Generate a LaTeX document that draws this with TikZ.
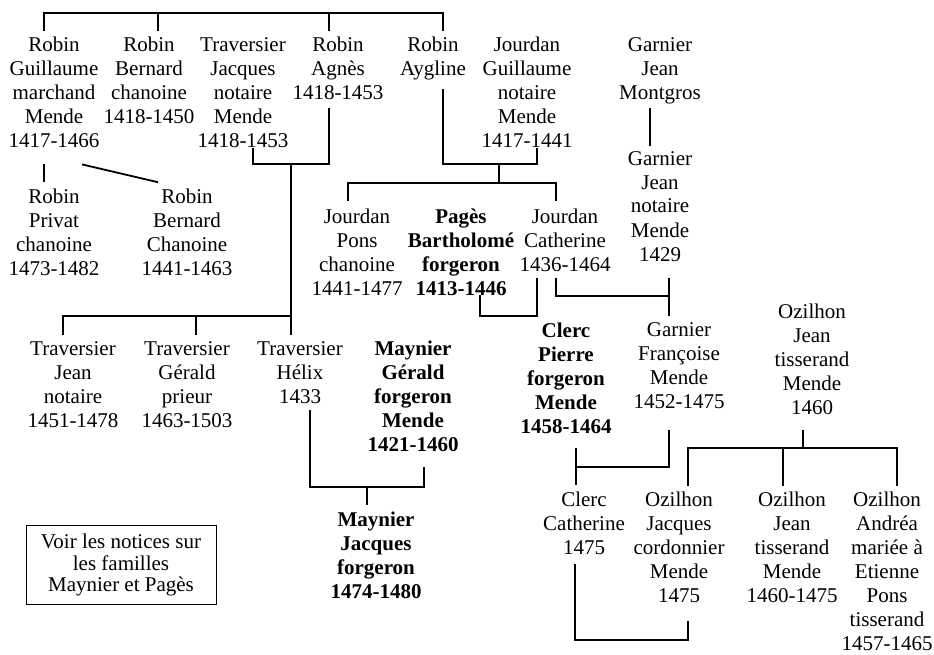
\documentclass[tikz,border=0pt]{standalone}
\usepackage{fontspec}
\setmainfont{Liberation Serif}

\begin{document}
\begin{tikzpicture}[x=1pt,y=-1pt]
	% Define styles for the persons and the family lines
	\tikzset{person/.style={align=center, inner sep=0pt, anchor=base, font=\fontsize{21}{24}\selectfont},
		forge/.style={person, font=\fontsize{21}{24}\selectfont\bfseries},
		link/.style={line width=1.8pt}}
	\useasboundingbox (0,0) rectangle (934,655);
	
	% First generation (placed at the baseline of the last line)
	\node[person] (guillaume) at (54,148) {Robin\\Guillaume\\marchand\\Mende\\1417-1466};
	\node[person] (bernard) at (149,124) {Robin\\Bernard\\chanoine\\1418-1450};
	\node[person] (jacques) at (243,148) {Traversier\\Jacques\\notaire\\Mende\\1418-1453};
	\node[person] (agnes) at (338,100) {Robin\\Agnès\\1418-1453};
	\node[person] (aygline) at (433,76) {Robin\\Aygline};
	\node[person] (jguillaume) at (527,148) {Jourdan\\Guillaume\\notaire\\Mende\\1417-1441};
	\node[person] (montgros) at (660,100) {Garnier\\Jean\\Montgros};
	\node[person] (garnierjean) at (660,261) {Garnier\\Jean\\notaire\\Mende\\1429};
	
	% Second generation
	\node[person] (privat) at (54,275) {Robin\\Privat\\chanoine\\1473-1482};
	\node[person] (bernardb) at (187,275) {Robin\\Bernard\\Chanoine\\1441-1463};
	\node[person] (pons) at (357,295) {Jourdan\\Pons\\chanoine\\1441-1477};
	\node[forge] (pages) at (461,295) {Pagès\\Bartholomé\\forgeron\\1413-1446};
	\node[person] (catherine) at (565,271) {Jourdan\\Catherine\\1436-1464};
	\node[person] (tjean) at (73,427) {Traversier\\Jean\\notaire\\1451-1478};
	\node[person] (tgerald) at (187,427) {Traversier\\Gérald\\prieur\\1463-1503};
	\node[person] (helix) at (300,403) {Traversier\\Hélix\\1433};
	\node[forge] (maynierg) at (413,451) {Maynier\\Gérald\\forgeron\\Mende\\1421-1460};
	\node[forge] (clercp) at (566,433) {Clerc\\Pierre\\forgeron\\Mende\\1458-1464};
	\node[person] (francoise) at (679,408) {Garnier\\Françoise\\Mende\\1452-1475};
	\node[person] (ozjean) at (812,414) {Ozilhon\\Jean\\tisserand\\Mende\\1460};
	
	% Third generation
	\node[forge] (maynierj) at (376,598) {Maynier\\Jacques\\forgeron\\1474-1480};
	\node[person] (clercc) at (584,554) {Clerc\\Catherine\\1475};
	\node[person] (ojacques) at (679,602) {Ozilhon\\Jacques\\cordonnier\\Mende\\1475};
	\node[person] (ojean) at (792,602) {Ozilhon\\Jean\\tisserand\\Mende\\1460-1475};
	\node[person] (andrea) at (887,650) {Ozilhon\\Andréa\\mariée à\\Etienne\\Pons\\tisserand\\1457-1465};
	
	% Note box
	\node[draw, line width=1pt, minimum width=190pt, minimum height=79pt, align=center, inner sep=0pt,
		font=\fontsize{21}{21.5}\selectfont] (notice) at (121,565) {Voir les notices sur\\les familles\\Maynier et Pagès};
	
	% Junctions of the lines
	\coordinate (top) at (300,13);
	\coordinate (tj) at (291,164);
	\coordinate (tb) at (291,316);
	\coordinate (jj) at (499,164);
	\coordinate (jb) at (499,183);
	\coordinate (pc) at (500,316);
	\coordinate (cg) at (669,296);
	\coordinate (hm) at (367,487);
	\coordinate (cf) at (576,467);
	\coordinate (oz) at (803,448);
	\coordinate (co) at (575,640);
	
	% Robin siblings
	\draw[link] ([xshift=-10pt,yshift=6pt]guillaume.north) |- (top) -| ([xshift=10pt,yshift=6pt]aygline.north);
	\draw[link] ([xshift=9pt,yshift=6pt]bernard.north) |- (top);
	\draw[link] ([xshift=-9pt,yshift=6pt]agnes.north) |- (top);
	
	% Children of Robin Guillaume
	\draw[link] ([xshift=-10pt,yshift=-16pt]guillaume.south) -- ([xshift=-10pt,yshift=6pt]privat.north);
	\draw[link] ([xshift=28pt,yshift=-16pt]guillaume.south) -- ([xshift=-29pt,yshift=6pt]bernardb.north);
	
	% Agnes and Jacques with the Traversier children
	\draw[link] ([xshift=-9pt,yshift=-8pt]agnes.south) |- (tj) -| ([xshift=10pt]jacques.south);
	\draw[link] (tj) -- ([xshift=-9pt,yshift=6pt]helix.north);
	\draw[link] ([xshift=-10pt,yshift=6pt]tjean.north) |- (tb);
	\draw[link] ([xshift=9pt,yshift=6pt]tgerald.north) |- (tb);
	
	% Aygline and Guillaume with the Jourdan children
	\draw[link] ([xshift=10pt,yshift=-8pt]aygline.south) |- (jj) -| ([xshift=10pt]jguillaume.south);
	\draw[link] (jj) -- (jb);
	\draw[link] ([xshift=-9pt,yshift=7pt]pons.north) |- (jb) -| ([xshift=-9pt,yshift=7pt]catherine.north);
	
	% Garnier line
	\draw[link] ([xshift=-10pt,yshift=-3pt]montgros.south) -- ([xshift=-10pt,yshift=5pt]garnierjean.north);
	\draw[link] ([xshift=9pt,yshift=-17pt]garnierjean.south) -- ([xshift=-10pt,yshift=6pt]francoise.north);
	\draw[link] ([xshift=-9pt,yshift=-7pt]catherine.south) |- (cg);
	
	% Catherine and Bartholome
	\draw[link] ([xshift=19pt]pages.south) |- (pc) -| ([xshift=-28pt,yshift=-7pt]catherine.south);
	
	% Helix and Gerald Maynier
	\draw[link] ([xshift=10pt,yshift=-7pt]helix.south) |- (hm) -| ([xshift=11pt,yshift=-16pt]maynierg.south);
	\draw[link] (hm) -- ([xshift=-9pt,yshift=6pt]maynierj.north);
	
	% Pierre and Francoise
	\draw[link] ([xshift=10pt,yshift=-15pt]clercp.south) |- (cf) -| ([xshift=-10pt,yshift=-22pt]francoise.south);
	\draw[link] (cf) -- ([xshift=-8pt,yshift=6pt]clercc.north);
	
	% Ozilhon children
	\draw[link] ([xshift=-9pt,yshift=-16pt]ozjean.south) -- (oz);
	\draw[link] ([xshift=9pt,yshift=5pt]ojacques.north) |- (oz) -| ([xshift=10pt,yshift=5pt]andrea.north);
	\draw[link] ([xshift=-9pt,yshift=5pt]ojean.north) |- (oz);
	
	% Catherine and Jacques Ozilhon
	\draw[link] ([xshift=-9pt,yshift=-10pt]clercc.south) |- (co) -| ([xshift=9pt,yshift=-19pt]ojacques.south);
\end{tikzpicture}
\end{document}
